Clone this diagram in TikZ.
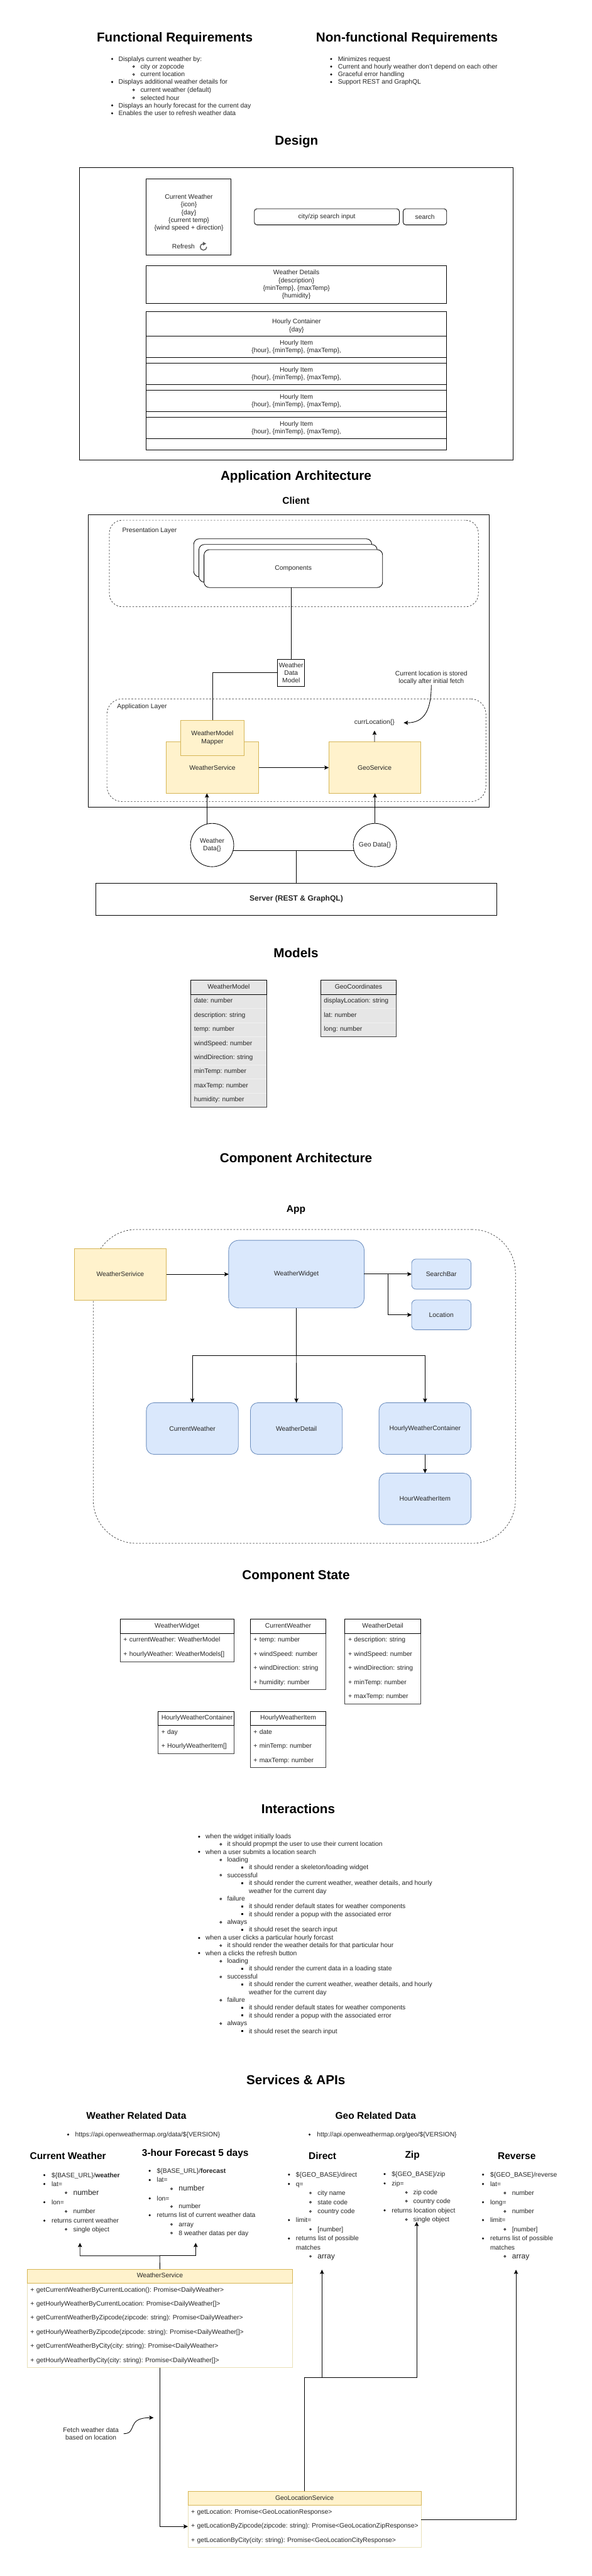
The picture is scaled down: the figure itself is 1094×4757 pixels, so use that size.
\documentclass[tikz,border=0pt]{standalone}
\usepackage{fontspec}
\setmainfont{Liberation Sans}
\usetikzlibrary{arrows.meta}
\definecolor{yfill}{HTML}{FFF2CC}
\definecolor{ystroke}{HTML}{D6B656}
\definecolor{bfill}{HTML}{DAE8FC}
\definecolor{bstroke}{HTML}{6C8EBF}
\definecolor{gfill}{HTML}{E6E6E6}
\definecolor{gsep}{HTML}{F0F0F0}
\definecolor{ybody}{HTML}{E8E0B8}
\newcommand\ftn{\fontsize{12}{14.4}\selectfont}
\newcommand\ftl{\fontsize{14}{16.8}\selectfont}
\newcommand\fth{\fontsize{24}{28.8}\selectfont\bfseries}
\newcommand\fts{\fontsize{18}{21.6}\selectfont\bfseries}
\frenchspacing
\tikzset{
  every node/.style={font=\ftn,text=black!85,inner sep=0pt,outer sep=0pt},
  boxbase/.style={rectangle,align=center,line width=1pt},
  plain/.style={boxbase,draw=black,fill=white},
  rbox/.style={boxbase,draw=black,fill=white,rounded corners=#1},
  dashbox/.style={boxbase,draw=black!80,line width=0.8pt,dash pattern=on 3pt off 3pt,rounded corners=#1},
  ybox/.style={boxbase,draw=ystroke,fill=yfill},
  bbox/.style={boxbase,draw=bstroke,fill=bfill,rounded corners=#1},
  htitle/.style={font=\fth,text=black,align=center},
  stitle/.style={font=\fts,text=black,align=center},
  lit/.style={anchor=base west},
  txt/.style={align=center},
  ln/.style={line width=1pt,draw=black},
  arr/.style={line width=1pt,draw=black,-{Stealth[length=8pt,width=7.5pt,inset=1.5pt]}},
  trbase/.style={rectangle,anchor=north west,inner xsep=6pt,minimum height=26pt,text height=9pt,text depth=3pt,align=left},
  greyrow/.style={trbase,fill=gfill},
  whiterow/.style={trbase,fill=white},
  ywrow/.style={trbase,fill=white},
  ghead/.style={trbase,fill=gfill,align=center},
  whead/.style={trbase,fill=white,align=center},
  yhead/.style={trbase,fill=yfill,align=center},
}
% box from corner to corner
\newcommand\bx[7][]{%
  \pgfmathsetmacro\bxw{#5-#3}\pgfmathsetmacro\bxh{#6-#4}%
  \pgfmathsetmacro\bxx{(#5+#3)/2}\pgfmathsetmacro\bxy{(#6+#4)/2}%
  \node[#1,minimum width=\bxw pt,minimum height=\bxh pt] (#2) at (\bxx,\bxy) {#7};}
% table row: style, name, x, y, width, text
\newcommand\trow[6]{\node[#1,text width=#5pt-12pt] (#2) at (#3,#4) {\mbox{#6}};}
% lists
\newcounter{lic}
\newcommand\setL[6]{\def\xa{#1}\def\xb{#2}\def\xc{#3}\def\xd{#4}\def\xe{#5}\def\xf{#6}}
\newcommand\LA[2]{\stepcounter{lic}\fill (\xa,#1) circle[radius=2pt];\node[lit] (li\arabic{lic}) at (\xb,#1+4) {#2};}
\newcommand\LB[2]{\stepcounter{lic}\draw[line width=.8pt] (\xc,#1) circle[radius=1.7pt];\node[lit] (li\arabic{lic}) at (\xd,#1+4) {#2};}
\newcommand\LC[2]{\stepcounter{lic}\fill (\xe-1.7,#1-1.7) rectangle (\xe+1.7,#1+1.7);\node[lit] (li\arabic{lic}) at (\xf,#1+4) {#2};}
\newcommand\LT[2]{\stepcounter{lic}\node[lit] (li\arabic{lic}) at (\xb,#1+4) {#2};}
\begin{document}
\begin{tikzpicture}[x=1pt,y=-1pt]
\useasboundingbox (0,0) rectangle (1094,4757);
\fill[white] (0,0) rectangle (1094,4757);

% ---------- Requirements
\node[htitle] (tfunc) at (323,70.7) {Functional Requirements};
\node[htitle] (tnon) at (752,70.7) {Non-functional Requirements};
\setL{207.3}{219}{247}{259.6}{0}{0}
\LA{108.9}{Displalys current weather by:}
\LB{122.9}{city or zopcode}
\LB{137.5}{current location}
\LA{151.5}{Displays additional weather details for}
\LB{166}{current weather (default)}
\LB{180.7}{selected hour}
\LA{194.7}{Displays an hourly forecast for the current day}
\LA{209.3}{Enables the user to refresh weather data}
\setL{612}{624.6}{0}{0}{0}{0}
\LA{108.9}{Minimizes request}
\LA{122.9}{Current and hourly weather don't depend on each other}
\LA{137.5}{Graceful error handling}
\LA{151.5}{Support REST and GraphQL}

% ---------- Design
\node[htitle] (tdesign) at (548,261) {Design};
\bx[plain]{dout}{147}{310}{948}{850}{}
\bx[plain]{dcw}{270}{330.5}{427}{470.3}{}
\node[txt] (dcwt) at (349,393) {Current Weather\\\{icon\}\\\{day\}\\\{current temp\}\\\{wind speed + direction\}};
\node (drefresh) at (339,454.5) {Refresh};
\draw[line width=1.6pt,draw=black!65] (376,450) .. controls (372.7,450) and (370,452.7) .. (370,456) .. controls (370,459.3) and (372.7,462) .. (376,462) .. controls (379.3,462) and (382,459.3) .. (382,456);
\fill[black!65] (375,446.5) -- (381,450) -- (375,453.5) -- cycle;
\bx[rbox=5pt]{dinput}{470}{385.5}{738}{415.3}{city/zip search input}
\bx[rbox=5pt]{dsearch}{745}{385.5}{825.5}{415.3}{search}
\bx[plain]{ddet}{270}{490.5}{825.5}{560.6}{Weather Details\\\{description\}\\\{minTemp\}, \{maxTemp\}\\\{humidity\}}
\bx[plain]{dhc}{270}{575.8}{825.5}{830.5}{}
\node[txt] (dhct) at (548,602) {Hourly Container\\\{day\}};
\bx[plain]{dh1}{270}{620.6}{825.5}{660.5}{Hourly Item\\\{hour\}, \{minTemp\}, \{maxTemp\},}
\bx[plain]{dh2}{270}{670.6}{825.5}{710.4}{Hourly Item\\\{hour\}, \{minTemp\}, \{maxTemp\},}
\bx[plain]{dh3}{270}{720.5}{825.5}{760.4}{Hourly Item\\\{hour\}, \{minTemp\}, \{maxTemp\},}
\bx[plain]{dh4}{270}{770.5}{825.5}{810.3}{Hourly Item\\\{hour\}, \{minTemp\}, \{maxTemp\},}

% ---------- Application Architecture
\node[htitle] (tarch) at (547,881) {Application Architecture};
\node[stitle] (tclient) at (547,924) {Client};
\bx[plain]{aout}{163}{950}{904}{1490}{}
\bx[dashbox=24pt]{apres}{202}{960.6}{884}{1120.5}{}
\node[anchor=west] (apresl) at (226,979.5) {Presentation Layer};
\bx[rbox=10pt]{ac1}{358}{995}{687}{1065}{}
\bx[rbox=10pt]{ac2}{367.5}{1005.5}{697}{1075}{}
\bx[rbox=10pt]{ac3}{377}{1015}{707}{1085}{Components}
\bx[dashbox=28pt]{aapp}{197.6}{1290.6}{898}{1480.3}{}
\node[anchor=west] (aappl) at (216.5,1304.7) {Application Layer};
\bx[plain]{awdm}{513}{1217.5}{563}{1267.3}{Weather\\Data\\Model}
\draw[ln] (awdm.north) -- (awdm.north |- ac3.south);
\bx[ybox]{aws}{307}{1370}{478}{1465}{WeatherService}
\bx[ybox]{amap}{334}{1330}{451}{1395}{WeatherModel\\Mapper}
\draw[ln] (awdm.west) -| (amap.north);
\bx[ybox]{ageo}{607.5}{1370}{777}{1465}{GeoService}
\draw[arr] (aws.east) -- (ageo.west);
\node[inner sep=1pt] (acurr) at (692,1334.5) {currLocation\{\}};
\draw[arr,shorten >=8pt] (ageo.north) -- (acurr.south);
\node[txt] (anote) at (797,1252) {Current location is stored\\locally after initial fetch};
\draw[arr,shorten >=16pt] (anote.south) .. controls (797,1310) and (785,1335) .. (acurr.east);
\node[draw=black,line width=1pt,fill=white,circle,minimum size=80pt,align=center] (awd) at (392,1560.5) {Weather\\Data\{\}};
\node[draw=black,line width=1pt,fill=white,circle,minimum size=80pt,align=center] (agd) at (692.8,1560.5) {Geo Data\{\}};
\coordinate (awdtop) at (382.4,1521.5);
\draw[arr] (awdtop) -- (awdtop |- aws.south);
\draw[arr] (agd.north) -- (agd.north |- ageo.south);
\draw[ln] (awd.-14.5) -- (agd.194.5);
\bx[plain]{aserver}{177.5}{1630.5}{917.5}{1690}{\fontsize{14}{16.8}\selectfont\bfseries Server (REST \& GraphQL)}
\coordinate (abus) at (547.5,1570.5);
\draw[ln] (aserver.north) -- (abus);

% ---------- Models
\node[htitle] (tmodels) at (547,1760) {Models};
\trow{ghead}{mwh}{352.6}{1810.3}{140}{WeatherModel}
\trow{greyrow}{mw1}{352.6}{1836.3}{140}{date: number}
\trow{greyrow}{mw2}{352.6}{1862.3}{140}{description: string}
\trow{greyrow}{mw3}{352.6}{1888.3}{140}{temp: number}
\trow{greyrow}{mw4}{352.6}{1914.3}{140}{windSpeed: number}
\trow{greyrow}{mw5}{352.6}{1940.3}{140}{windDirection: string}
\trow{greyrow}{mw6}{352.6}{1966.3}{140}{minTemp: number}
\trow{greyrow}{mw7}{352.6}{1992.3}{140}{maxTemp: number}
\trow{greyrow}{mw8}{352.6}{2018.3}{140}{humidity: number}
\draw[line width=.7pt,draw=gsep] (mw2.north west) -- (mw2.north east) (mw3.north west) -- (mw3.north east) (mw4.north west) -- (mw4.north east) (mw5.north west) -- (mw5.north east) (mw6.north west) -- (mw6.north east) (mw7.north west) -- (mw7.north east) (mw8.north west) -- (mw8.north east);
\draw[ln,draw=black!75] (mwh.north west) rectangle (mw8.south east);
\draw[ln] (mwh.south west) rectangle (mwh.north east);
\trow{ghead}{mgh}{592.5}{1810.3}{140}{GeoCoordinates}
\trow{greyrow}{mg1}{592.5}{1836.3}{140}{displayLocation: string}
\trow{greyrow}{mg2}{592.5}{1862.3}{140}{lat: number}
\trow{greyrow}{mg3}{592.5}{1888.3}{140}{long: number}
\draw[line width=.7pt,draw=gsep] (mg2.north west) -- (mg2.north east) (mg3.north west) -- (mg3.north east);
\draw[ln,draw=black!75] (mgh.north west) rectangle (mg3.south east);
\draw[ln] (mgh.south west) rectangle (mgh.north east);

% ---------- Component Architecture
\node[htitle] (tcomp) at (547,2140.8) {Component Architecture};
\node[stitle] (tapp) at (547,2234.7) {App};
\bx[dashbox=80pt]{capp}{172.3}{2270.4}{952.5}{2850}{}
\bx[ybox]{csvc}{137.3}{2305.6}{307.2}{2400.5}{WeatherSerivice}
\bx[bbox=19pt]{cww}{422.6}{2290.3}{673}{2415.3}{WeatherWidget}
\bx[bbox=8pt]{csb}{760.7}{2325}{870.4}{2380.6}{SearchBar}
\bx[bbox=8pt]{cloc}{760.7}{2400.5}{870.4}{2455.6}{Location}
\bx[bbox=14pt]{ccw}{270.5}{2590.3}{440.4}{2685.7}{CurrentWeather}
\bx[bbox=14pt]{cwd}{462.8}{2590.3}{632.7}{2685.7}{WeatherDetail}
\bx[bbox=14pt]{chc}{700.5}{2590.3}{870.4}{2685.7}{HourlyWeatherContainer}
\bx[bbox=14pt]{chi}{700.5}{2720.4}{870.4}{2815.3}{HourWeatherItem}
\draw[arr] (csvc.east) -- (cww.west |- csvc.east);
\draw[arr] (cww.east |- csb.west) -- (csb.west);
\coordinate (celb) at (717,2352.8);
\draw[arr] (celb) |- (cloc.west);
\coordinate (cbus) at (547.8,2503);
\draw[arr] (cww.south) -- (cbus) -| (ccw.north);
\draw[arr] (cbus) -| (chc.north);
\draw[arr] (cbus) -- (cwd.north);
\draw[arr] (chc.south) -- (chi.north);

% ---------- Component State
\node[htitle] (tstate) at (547,2910.7) {Component State};
\trow{whead}{swh}{222.2}{2990.3}{210}{WeatherWidget}
\trow{whiterow}{sw1}{222.2}{3016.3}{210}{+ currentWeather: WeatherModel}
\trow{whiterow}{sw2}{222.2}{3042.3}{210}{+ hourlyWeather: WeatherModels[]}
\draw[ln,draw=black!75] (swh.north west) rectangle (sw2.south east);
\draw[ln] (swh.south west) rectangle (swh.north east);
\trow{whead}{sch}{462.5}{2990.3}{140}{CurrentWeather}
\trow{whiterow}{sc1}{462.5}{3016.3}{140}{+ temp: number}
\trow{whiterow}{sc2}{462.5}{3042.3}{140}{+ windSpeed: number}
\trow{whiterow}{sc3}{462.5}{3068.3}{140}{+ windDirection: string}
\trow{whiterow}{sc4}{462.5}{3094.3}{140}{+ humidity: number}
\draw[ln,draw=black!75] (sch.north west) rectangle (sc4.south east);
\draw[ln] (sch.south west) rectangle (sch.north east);
\trow{whead}{sdh}{637.4}{2990.3}{140}{WeatherDetail}
\trow{whiterow}{sd1}{637.4}{3016.3}{140}{+ description: string}
\trow{whiterow}{sd2}{637.4}{3042.3}{140}{+ windSpeed: number}
\trow{whiterow}{sd3}{637.4}{3068.3}{140}{+ windDirection: string}
\trow{whiterow}{sd4}{637.4}{3094.3}{140}{+ minTemp: number}
\trow{whiterow}{sd5}{637.4}{3120.3}{140}{+ maxTemp: number}
\draw[ln,draw=black!75] (sdh.north west) rectangle (sd5.south east);
\draw[ln] (sdh.south west) rectangle (sdh.north east);
\trow{whead}{shh}{292.2}{3160.3}{140}{HourlyWeatherContainer}
\trow{whiterow}{sh1}{292.2}{3186.3}{140}{+ day}
\trow{whiterow}{sh2}{292.2}{3212.3}{140}{+ HourlyWeatherItem[]}
\draw[ln,draw=black!75] (shh.north west) rectangle (sh2.south east);
\draw[ln] (shh.south west) rectangle (shh.north east);
\trow{whead}{sih}{462.5}{3160.3}{140}{HourlyWeatherItem}
\trow{whiterow}{si1}{462.5}{3186.3}{140}{+ date}
\trow{whiterow}{si2}{462.5}{3212.3}{140}{+ minTemp: number}
\trow{whiterow}{si3}{462.5}{3238.3}{140}{+ maxTemp: number}
\draw[ln,draw=black!75] (sih.north west) rectangle (si3.south east);
\draw[ln] (sih.south west) rectangle (sih.north east);

% ---------- Interactions
\node[htitle] (tinter) at (551,3340.7) {Interactions};
\setL{368}{380}{408}{420}{448}{460}
\LA{3391.7}{when the widget initially loads}
\LB{3405.7}{it should propmpt the user to use their current location}
\LA{3419.7}{when a user submits a location search}
\LB{3434.7}{loading}
\LC{3448.7}{it should render a skeleton/loading widget}
\LB{3462.7}{successful}
\LC{3477.7}{it should render the current weather, weather details, and hourly}
\stepcounter{lic}\node[lit] (li\arabic{lic}) at (460,3495.7) {weather for the current day};
\LB{3506.7}{failure}
\LC{3520.7}{it should render default states for weather components}
\LC{3534.7}{it should render a popup with the associated error}
\LB{3549.7}{always}
\LC{3563.7}{it should reset the search input}
\LA{3578.7}{when a user clicks a particular hourly forcast}
\LB{3592.7}{it should render the weather details for that particular hour}
\LA{3606.7}{when a clicks the refresh button}
\LB{3621.7}{loading}
\LC{3635.7}{it should render the current data in a loading state}
\LB{3650.7}{successful}
\LC{3664.7}{it should render the current weather, weather details, and hourly}
\stepcounter{lic}\node[lit] (li\arabic{lic}) at (460,3682.7) {weather for the current day};
\LB{3693.7}{failure}
\LC{3707.7}{it should render default states for weather components}
\LC{3721.7}{it should render a popup with the associated error}
\LB{3736.7}{always}
\LC{3750.7}{it should reset the search input}

% ---------- Services & APIs
\node[htitle] (tserv) at (546.7,3840.7) {Services \& APIs};
\node[stitle] (tweath) at (252,3906.7) {Weather Related Data};
\node[stitle] (tgeo) at (694.3,3906.7) {Geo Related Data};
\setL{126}{139}{0}{0}{0}{0}
\LA{3941.7}{https://api.openweathermap.org/data/\$\{VERSION\}}
\setL{572}{585.8}{0}{0}{0}{0}
\LA{3941.7}{http://api.openweathermap.org/geo/\$\{VERSION\}}

\node[stitle] (tcur) at (125.6,3981.3) {Current Weather};
\setL{82}{95.4}{122}{135.4}{0}{0}
\LA{4016.7}{\$\{BASE\_URL\}/\textbf{weather}}
\LA{4033}{lat=}
\LB{4049.3}{\ftl number}
\LA{4066.7}{lon=}
\LB{4083.7}{number}
\LA{4100.7}{returns current weather}
\LB{4116.7}{single object}

\node[stitle] (tfor) at (360.9,3976.7) {3-hour Forecast 5 days};
\setL{276.6}{290}{317}{330.3}{0}{0}
\LA{4008.7}{\$\{BASE\_URL\}/\textbf{forecast}}
\LA{4025.7}{lat=}
\LB{4042}{\ftl number}
\LA{4059.7}{lon=}
\LB{4074.7}{number}
\LA{4090.7}{returns list of current weather data}
\LB{4107.7}{array}
\LB{4123.7}{8 weather datas per day}

\node[stitle] (tdir) at (596,3981.3) {Direct};
\setL{534}{547}{573.7}{587}{0}{0}
\LA{4015.7}{\$\{GEO\_BASE\}/direct}
\LA{4033}{q=}
\LB{4049.7}{city name}
\LB{4066.7}{state code}
\LB{4083.7}{country code}
\LA{4099.7}{limit=}
\LB{4116.7}{[number]}
\LA{4133.7}{returns list of possible}
\LT{4150.7}{matches}
\LB{4166.7}{\ftl array}

\node[stitle] (tzip) at (762,3980) {Zip};
\setL{710.8}{723.9}{751}{763.8}{0}{0}
\LA{4014.7}{\$\{GEO\_BASE\}/zip}
\LA{4032}{zip=}
\LB{4048.7}{zip code}
\LB{4064.7}{country code}
\LA{4081.7}{returns location object}
\LB{4098.7}{single object}

\node[stitle] (trev) at (955,3981.3) {Reverse};
\setL{892.6}{906}{933}{946.3}{0}{0}
\LA{4015.7}{\$\{GEO\_BASE\}/reverse}
\LA{4033}{lat=}
\LB{4049.7}{number}
\LA{4066.7}{long=}
\LB{4083.7}{number}
\LA{4099.7}{limit=}
\LB{4116.7}{[number]}
\LA{4133.7}{returns list of possible}
\LT{4150.7}{matches}
\LB{4166.7}{\ftl array}

% service tables
\trow{yhead}{wsh}{50.3}{4190.2}{490.4}{WeatherService}
\trow{ywrow}{wsr1}{50.3}{4216.2}{490.4}{+ getCurrentWeatherByCurrentLocation(): Promise<DailyWeather>}
\trow{ywrow}{wsr2}{50.3}{4242.2}{490.4}{+ getHourlyWeatherByCurrentLocation: Promise<DailyWeather[]>}
\trow{ywrow}{wsr3}{50.3}{4268.2}{490.4}{+ getCurrentWeatherByZipcode(zipcode: string): Promise<DailyWeather>}
\trow{ywrow}{wsr4}{50.3}{4294.2}{490.4}{+ getHourlyWeatherByZipcode(zipcode: string): Promise<DailyWeather[]>}
\trow{ywrow}{wsr5}{50.3}{4320.2}{490.4}{+ getCurrentWeatherByCity(city: string): Promise<DailyWeather>}
\trow{ywrow}{wsr6}{50.3}{4346.2}{490.4}{+ getHourlyWeatherByCity(city: string): Promise<DailyWeather[]>}
\draw[ln,draw=ybody] (wsh.north west) rectangle (wsr6.south east);
\draw[ln,draw=ystroke] (wsh.south west) rectangle (wsh.north east);
\trow{yhead}{glh}{347.2}{4600.5}{431.1}{GeoLocationService}
\trow{ywrow}{glr1}{347.2}{4626.5}{431.1}{+ getLocation: Promise<GeoLocationResponse>}
\trow{ywrow}{glr2}{347.2}{4652.5}{431.1}{+ getLocationByZipcode(zipcode: string): Promise<GeoLocationZipResponse>}
\trow{ywrow}{glr3}{347.2}{4678.5}{431.1}{+ getLocationByCity(city: string): Promise<GeoLocationCityResponse>}
\draw[ln,draw=ybody] (glh.north west) rectangle (glr3.south east);
\draw[ln,draw=ystroke] (glh.south west) rectangle (glh.north east);

% service connectors
\coordinate (sj) at (295.2,4165.7);
\coordinate (stcur) at (147.8,4141.7);
\coordinate (stfor) at (361.6,4141.7);
\draw[arr] (wsh.north) -- (sj) -| (stcur);
\draw[arr] (sj) -| (stfor);
\draw[arr] (wsr6.south) |- (glr2.west);
\coordinate (gz) at (770,4391);
\coordinate (gtzip) at (770,4103);
\coordinate (gtdir) at (595,4191.3);
\coordinate (gtrev) at (953.6,4191.3);
\draw[arr] (glh.north) |- (gz) -- (gtzip);
\draw[arr] (gtdir |- gz) -- (gtdir);
\draw[arr] (glr2.north east) -| (gtrev);
\node[txt] (fetch) at (168,4494.2) {Fetch weather data\\based on location};
\coordinate (fetchend) at (283.8,4464.6);
\coordinate (fetchstart) at (228.3,4494.2);
\draw[arr] (fetchstart) .. controls (255,4494) and (232,4464.6) .. (fetchend);
\end{tikzpicture}
\end{document}
